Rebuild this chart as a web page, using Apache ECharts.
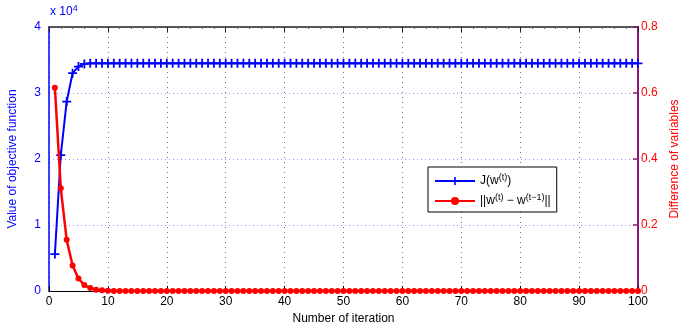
<!DOCTYPE html>
<html><head><meta charset="utf-8">
<script src="https://cdn.jsdelivr.net/npm/echarts@6/dist/echarts.min.js"></script>
<style>html,body{margin:0;padding:0;background:#fff}#c{width:691px;height:323px}</style>
</head><body><div id="c"></div>
<script>
var iterations = [1,2,3,4,5,6,7,8,9,10,11,12,13,14,15,16,17,18,19,20,21,22,23,24,25,26,27,28,29,30,31,32,33,34,35,36,37,38,39,40,41,42,43,44,45,46,47,48,49,50,51,52,53,54,55,56,57,58,59,60,61,62,63,64,65,66,67,68,69,70,71,72,73,74,75,76,77,78,79,80,81,82,83,84,85,86,87,88,89,90,91,92,93,94,95,96,97,98,99,100];
var objectiveValues = [5600,20600,28700,33000,34000,34400,34500,34500,34500,34500,
34500,34500,34500,34500,34500,34500,34500,34500,34500,34500,
34500,34500,34500,34500,34500,34500,34500,34500,34500,34500,
34500,34500,34500,34500,34500,34500,34500,34500,34500,34500,
34500,34500,34500,34500,34500,34500,34500,34500,34500,34500,
34500,34500,34500,34500,34500,34500,34500,34500,34500,34500,
34500,34500,34500,34500,34500,34500,34500,34500,34500,34500,
34500,34500,34500,34500,34500,34500,34500,34500,34500,34500,
34500,34500,34500,34500,34500,34500,34500,34500,34500,34500,
34500,34500,34500,34500,34500,34500,34500,34500,34500,34500];
var differenceValues = [0.616,0.311,0.155,0.077,0.038,0.018,0.009,0.004,0.002,0.001,
0,0,0,0,0,0,0,0,0,0,0,0,0,0,0,0,0,0,0,0,
0,0,0,0,0,0,0,0,0,0,0,0,0,0,0,0,0,0,0,0,
0,0,0,0,0,0,0,0,0,0,0,0,0,0,0,0,0,0,0,0,
0,0,0,0,0,0,0,0,0,0,0,0,0,0,0,0,0,0,0,0,
0,0,0,0,0,0,0,0,0,0];
var xTicks = [0,10,20,30,40,50,60,70,80,90,100];
var leftTicks = [0,1,2,3,4];
var rightTicks = [0,0.2,0.4,0.6,0.8];

var FONT = 'Liberation Sans, Arial, sans-serif';
var plusPath = 'path://M-1,-5H1V-1H5V1H1V5H-1V1H-5V-1H-1Z';
var chart = echarts.init(document.getElementById('c'));
var rich = {
  n: {fontSize: 12, fontFamily: FONT, color: '#000', lineHeight: 16},
  s: {fontSize: 9, fontFamily: FONT, color: '#000', verticalAlign: 'top', lineHeight: 10}
};
chart.setOption({
  animation: false,
  grid: {left: 49, right: 53, top: 27, bottom: 32, containLabel: false, outerBoundsMode: 'none'},
  xAxis: [{
    type: 'value', min: 0, max: 100, interval: 10, position: 'bottom',
    name: 'Number of iteration', nameLocation: 'middle', nameGap: 19,
    nameTextStyle: {color: '#000', fontSize: 12, fontFamily: FONT},
    axisLine: {onZero: false, lineStyle: {color: '#000', width: 1}},
    axisTick: {inside: true, length: 5, lineStyle: {color: '#000'}},
    axisLabel: {color: '#000', fontSize: 12, fontFamily: FONT, margin: 5,
      formatter: function (v) { return String(xTicks[Math.round(v / 10)]); }},
    splitLine: {show: true, lineStyle: {color: '#777', type: [1, 4], width: 1}}
  }, {
    type: 'value', min: 0, max: 100, interval: 10, position: 'top',
    axisLine: {show: true, onZero: false, lineStyle: {color: '#222', width: 1.5}},
    axisTick: {show: true, inside: true, length: 5, lineStyle: {color: '#222'}},
    minorTick: {show: true, splitNumber: 5, length: 2, lineStyle: {color: '#666'}},
    axisLabel: {show: false}, splitLine: {show: false}
  }],
  yAxis: [{
    type: 'value', min: 0, max: 40000, interval: 10000, position: 'left',
    name: 'Value of objective function', nameLocation: 'middle', nameGap: 30, nameRotate: 90,
    nameTextStyle: {color: '#0000ff', fontSize: 12, fontFamily: FONT},
    axisLine: {show: true, onZero: false, lineStyle: {color: '#0000ff', width: 1.5}},
    axisTick: {show: false},
    axisLabel: {color: '#0000ff', fontSize: 12, fontFamily: FONT, margin: 8,
      formatter: function (v) { return String(leftTicks[Math.round(v / 10000)]); }},
    splitLine: {show: true, lineStyle: {color: '#9999ee', type: [1, 3], width: 1}}
  }, {
    type: 'value', min: 0, max: 0.8, interval: 0.2, position: 'right',
    name: 'Difference of variables', nameLocation: 'middle', nameGap: 30, nameRotate: 90,
    nameTextStyle: {color: '#ff0000', fontSize: 12, fontFamily: FONT},
    axisLine: {show: true, onZero: false, lineStyle: {color: '#8b1a7a', width: 2}},
    axisTick: {show: true, inside: true, length: 5, lineStyle: {color: '#8b1a7a', width: 1.5}},
    axisLabel: {color: '#ff0000', fontSize: 12, fontFamily: FONT, margin: 3,
      formatter: function (v) { return String(rightTicks[Math.round(v / 0.2)]); }},
    splitLine: {show: false}
  }],
  legend: {
    orient: 'vertical', left: 428, top: 167, itemGap: 6, itemWidth: 40, itemHeight: 10,
    padding: [6, 6, 5, 6],
    backgroundColor: '#fff', borderColor: '#000', borderWidth: 1, borderRadius: 0,
    data: ['J', 'D'],
    formatter: function (name) {
      if (name === 'J') return '{n|J(w}{s|(t)}{n|)}';
      return '{n|||w}{s|(t)}{n| − w}{s|(t−1)}{n|||}';
    },
    textStyle: {rich: rich}
  },
  graphic: [{
    type: 'text', left: 50, top: 4,
    style: {rich: {n: {fontSize: 12, fontFamily: FONT, fill: '#0000ff', lineHeight: 16},
                   s: {fontSize: 9, fontFamily: FONT, fill: '#0000ff', verticalAlign: 'top', lineHeight: 10}},
            text: '{n|x 10}{s|4}'}
  }],
  series: [{
    name: 'J', type: 'line', xAxisIndex: 0, yAxisIndex: 0,
    data: objectiveValues.map(function (v, i) { return [iterations[i], v]; }),
    symbol: plusPath, symbolSize: 9, showAllSymbol: true,
    lineStyle: {color: '#0000ff', width: 2},
    itemStyle: {color: '#0000ff', borderWidth: 0}, z: 3
  }, {
    name: 'D', type: 'line', xAxisIndex: 0, yAxisIndex: 1,
    data: differenceValues.map(function (v, i) { return [iterations[i], v]; }),
    symbol: 'circle', symbolSize: 6, showAllSymbol: true,
    lineStyle: {color: '#ff0000', width: 2.5},
    itemStyle: {color: '#ff0000', borderWidth: 0}, z: 4
  }]
});
</script></body></html>
